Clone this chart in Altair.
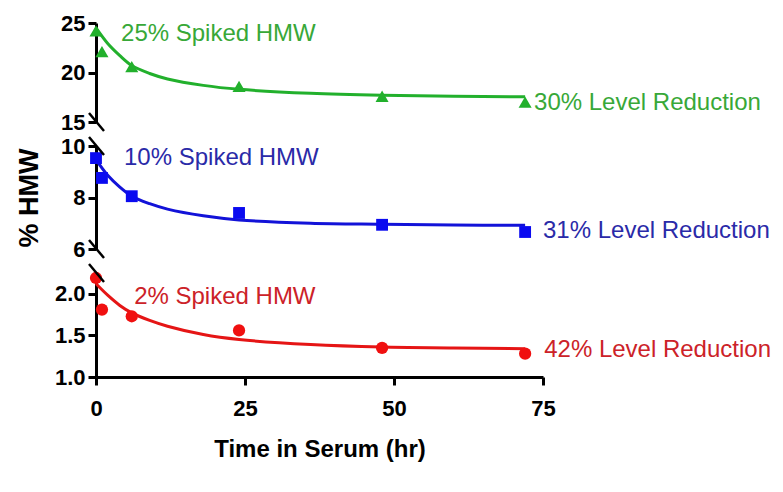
import altair as alt
import pandas as pd

# Sampling times (hr) of the measured points
times = [0, 1, 6, 24, 48, 72]
green_pts = [24.2, 22.1, 20.6, 18.6, 17.6, 17.0]
blue_pts = [9.53, 8.76, 8.05, 7.40, 6.94, 6.66]
red_pts = [2.19, 1.81, 1.73, 1.56, 1.35, 1.28]

# Fitted decay curves, read at these times
fit_times = [0, 2, 4, 6, 9, 12, 18, 24, 36, 48, 60, 72]
green_fit = [24.5, 22.9, 21.7, 20.7, 19.9, 19.35, 18.7, 18.3, 17.9, 17.7, 17.6, 17.55]
blue_fit = [9.47, 8.85, 8.40, 8.05, 7.76, 7.55, 7.29, 7.13, 7.00, 6.96, 6.93, 6.92]
red_fit = [2.12, 1.98, 1.86, 1.77, 1.68, 1.61, 1.51, 1.45, 1.39, 1.36, 1.35, 1.34]

# Annotations
spike_labels = ["25% Spiked HMW", "10% Spiked HMW", "2% Spiked HMW"]
spike_t = [4.2, 4.7, 6.4]
spike_v = [23.9, 9.53, 1.96]
reduction_labels = ["30% Level Reduction", "31% Level Reduction", "42% Level Reduction"]
reduction_t = [73.5, 75.0, 75.2]
reduction_v = [16.9, 6.70, 1.32]

# Y-axis segments of the broken axis
y_domains = [[15, 25], [6, 10], [1.0, 2.25]]
y_ticks = [[15, 20, 25], [6, 8, 10], [1.0, 1.5, 2.0]]
y_formats = ["d", "d", ".1f"]
heights = [99, 103, 104]

FONT = "Liberation Sans"
line_colors = ["#22B02C", "#1212D8", "#E51515"]
marker_colors = ["#22B02C", "#0A0AF0", "#F01010"]
text_colors = ["#38A838", "#2A2AA8", "#CC2228"]
shapes = ["triangle-up", "square", "circle"]
sizes = [170, 140, 150]


def slash(y_px):
    # short diagonal mark where the axis is broken
    return alt.Chart(pd.DataFrame({"k": [0]})).mark_rule(
        color="black", strokeWidth=2.5
    ).encode(
        x=alt.value(-7), x2=alt.value(8),
        y=alt.value(y_px - 9), y2=alt.value(y_px + 9),
    )


def panel(i, pts, fit, breaks, bottom):
    h = heights[i]
    pts_df = pd.DataFrame({"t": times, "v": pts})
    fit_df = pd.DataFrame({"t": fit_times, "v": fit})
    ann_df = pd.DataFrame({
        "t": [spike_t[i], reduction_t[i]],
        "v": [spike_v[i], reduction_v[i]],
        "label": [spike_labels[i], reduction_labels[i]],
    })

    if bottom:
        x_axis = alt.Axis(values=[0, 25, 50, 75], title="Time in Serum (hr)",
                          labelFlush=False, labelPadding=13, titlePadding=18,
                          titleFontSize=24)
    else:
        x_axis = None
    x = alt.X("t:Q", scale=alt.Scale(domain=[0, 75], nice=False), axis=x_axis)

    y_title = "% HMW" if i == 1 else None
    y = alt.Y("v:Q",
              scale=alt.Scale(domain=y_domains[i], nice=False, zero=False),
              axis=alt.Axis(values=y_ticks[i], format=y_formats[i], title=y_title,
                            labelPadding=3, titlePadding=17, titleFontSize=27))

    line = alt.Chart(fit_df).mark_line(
        color=line_colors[i], strokeWidth=3, interpolate="catmull-rom"
    ).encode(x=x, y=y)
    points = alt.Chart(pts_df).mark_point(
        shape=shapes[i], filled=True, opacity=1, size=sizes[i], color=marker_colors[i]
    ).encode(x=x, y=y)
    text = alt.Chart(ann_df).mark_text(
        align="left", baseline="middle", font=FONT, fontSize=24, color=text_colors[i]
    ).encode(x=x, y=y, text="label:N")

    layers = [line, points, text]
    for b in breaks:
        layers.append(slash(0 if b == "top" else h))
    return alt.layer(*layers).properties(width=447, height=h)


green = panel(0, green_pts, green_fit, ["bottom"], False)
blue = panel(1, blue_pts, blue_fit, ["top", "bottom"], False)
red = panel(2, red_pts, red_fit, ["top"], True)

chart = alt.vconcat(green, blue, red, spacing=24, bounds="flush").properties(
    padding={"left": 15, "top": 12, "right": 5, "bottom": 5}
).configure_view(
    strokeWidth=0
).configure_axis(
    grid=False,
    domainColor="black", domainWidth=3,
    tickColor="black", tickWidth=3, tickSize=8,
    labelFont=FONT, labelFontSize=22, labelFontWeight="bold", labelColor="black",
    titleFont=FONT, titleFontWeight="bold", titleColor="black",
)

chart.save("out.html", embed_options={"renderer": "svg", "actions": False})
